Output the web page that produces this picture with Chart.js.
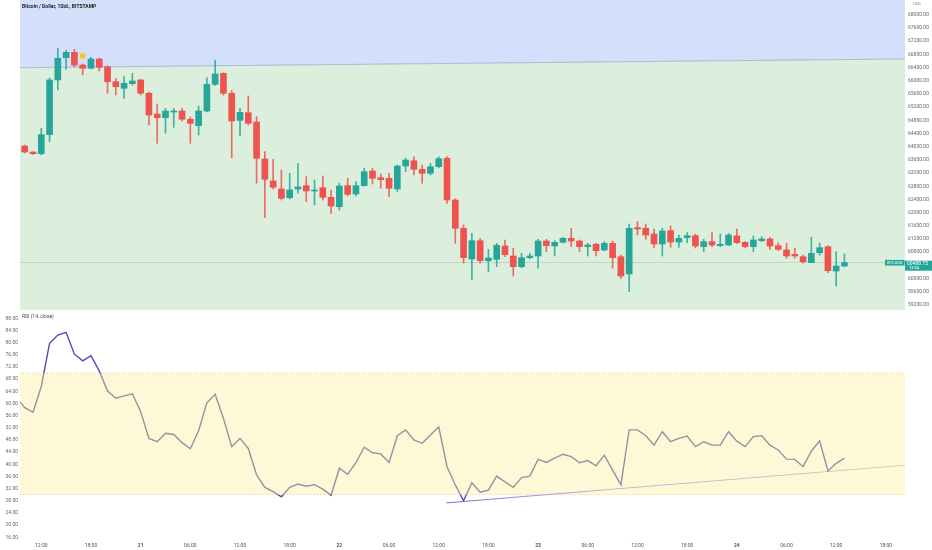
<!DOCTYPE html>
<html><head><meta charset="utf-8">
<script src="https://cdn.jsdelivr.net/npm/chart.js@4.4.1/dist/chart.umd.min.js"></script>
<style>
html,body{margin:0;padding:0;background:#fff;width:932px;height:550px;overflow:hidden;font-family:Roboto,"DejaVu Sans",sans-serif;}
#pc{position:absolute;left:0;top:0;}
#rc{position:absolute;left:0;top:311px;}
.t{position:absolute;font-size:5px;color:#333;white-space:nowrap;line-height:6px;}
</style></head><body>
<canvas id="pc" width="932" height="311"></canvas>
<canvas id="rc" width="932" height="239"></canvas>
<div class="t" style="left:22px;top:3px;font-weight:bold;color:#222;">Bitcoin / Dollar, 1Std., BITSTAMP</div>
<div class="t" style="left:22px;top:313px;color:#444;">RSI (14, close)</div>
<div class="t" style="left:913px;top:1px;color:#777;font-size:4px;">USD</div>
<script>
// ---- data (hourly candles, first one at index -1 = 20th 09:00) ----
const startIdx = -1;
const opens  = [64060,64020,63838,63787,64363,66021,66697,66860,66475,66375,66657,66424,65969,65769,65909,66021,65618,64990,64878,65050,65081,64830,64636,65081,65890,66224,65618,64799,65030,64748,63626,62959,62717,62453,62717,62817,62656,62756,62465,62181,62817,62565,62817,63262,63060,63041,62717,63414,63575,63314,63193,63393,63648,62383,61526,60595,61150,60544,60586,60990,60686,60362,60635,60686,61141,60990,61101,61223,61141,60970,61041,60867,61071,60665,60141,61546,61526,61353,61050,61454,61111,61243,61303,60970,61120,61000,61020,61293,61101,60970,61150,61202,60999,60868,60737,60665,60483,60787,60968,60232,60383];
const highs  = [64100,64050,63854,64557,66081,66982,66930,66951,66506,66709,66688,66445,66072,66121,66224,66040,65657,65293,65163,65163,65163,64900,65233,66090,66627,66242,65700,65163,65536,64908,63848,63617,63293,63193,63496,63090,62990,63111,62687,62890,63041,62939,63344,63344,63172,63193,63444,63648,63696,63444,63496,63696,63696,62420,61626,61374,61222,60889,61071,61171,60920,60767,60767,61192,61192,61150,61253,61526,61171,61071,61071,61120,61141,60716,61656,61726,61656,61505,61526,61595,61323,61393,61353,61192,61404,61353,61374,61505,61120,61293,61272,61253,61090,61071,60920,60716,61253,61071,61000,60817,60747];
const lows   = [63990,63808,63763,63748,64151,65718,66345,66424,66172,66354,66294,65618,65566,65466,65869,65566,64657,64102,64405,64587,64778,64102,64354,65050,65860,65566,63660,64323,64657,62890,61859,62717,62384,62414,62587,62332,62232,62384,61980,62080,62505,62505,62800,62869,62738,62484,62635,63241,63141,62890,63141,63360,62283,61071,60465,59959,60465,60210,60362,60665,60080,60330,60600,60314,60817,60686,61080,60970,60817,60686,60686,60840,60314,60010,59604,61323,61192,60929,60686,60950,60950,61090,60929,60817,60970,60970,61000,61060,60929,60817,61120,60889,60850,60616,60616,60465,60483,60716,60180,59777,60360];
const closes = [64020,63838,63787,64363,66021,66678,66860,66475,66375,66657,66406,65969,65818,65921,65991,65618,64960,64878,65081,65081,64830,64708,65081,65890,66203,65618,64780,65042,64708,63648,63011,62769,62435,62687,62778,62656,62687,62465,62202,62808,62556,62817,63241,63041,62999,62738,63414,63596,63314,63193,63393,63635,62383,61526,60635,61150,60544,60625,61010,60726,60362,60635,60686,61141,61000,61101,61223,61141,60970,61020,60847,61071,60635,60080,61526,61505,61323,61050,61444,61111,61223,61303,60990,61120,61020,61041,61323,61090,60970,61171,61202,60990,60889,60686,60686,60513,60768,60938,60241,60383,60488.75];
const rsi = [61.9,58.6,57.1,65.5,79.8,82.5,83.4,76.2,74.0,75.7,70.7,64.1,61.7,62.5,63.2,57.3,48.5,47.4,50.2,49.8,47.1,45.1,51.0,60.2,63.0,55.1,45.8,48.5,45.2,36.5,32.4,31.0,29.3,32.4,33.5,32.8,33.3,31.8,29.8,38.7,36.7,40.5,45.6,43.8,43.4,40.6,49.4,51.3,48.0,46.9,49.6,52.3,39.2,33.2,28.0,33.9,30.8,31.5,36.1,34.2,32.4,35.6,36.1,41.6,40.6,42.0,43.3,42.5,40.5,41.2,39.5,43.0,38.1,33.2,51.3,51.3,49.4,46.3,50.7,47.4,48.5,49.3,45.8,47.4,46.3,46.3,50.7,47.6,45.8,49.1,49.4,46.3,44.7,41.7,41.6,39.2,44.3,47.7,37.8,40.3,42.0];

// axes / annotations
const xRange = [-0.57, 106.31];
const priceRange = [59049, 68446];
const rsiRange = [15, 90];
const priceTicks = [59200,59600,60000,60400,60800,61200,61600,62000,62400,62800,63200,63600,64000,64400,64800,65200,65600,66000,66400,66800,67200,67600,68000];
const rsiTicks = [16,20,24,28,32,36,40,44,48,52,56,60,64,68,72,76,80,84,88];
const timeTickIdx = [2,8,14,20,26,32,38,44,50,56,62,68,74,80,86,92,98,104];
const timeTickLabels = ["12:00","18:00","21","06:00","12:00","18:00","22","06:00","12:00","18:00","23","06:00","12:00","18:00","24","06:00","12:00","18:00"];
const dayLabels = ["21","22","23","24"];
const zoneLine = [66393, 66657];          // boundary between blue and green zones (at xRange ends)
const rsiLevels = [70, 30];
const rsiTrendX = [50.9, 106.31];
const rsiTrendY = [27.3, 39.7];
const markerIdx = [7];
const markerPrice = [66748];
const symbolLabel = "BTCUSD";
const countdown = "13:04";

const GREEN = '#26a69a', RED = '#ef5350';
Chart.defaults.font.family = 'Roboto, "DejaVu Sans", sans-serif';
Chart.defaults.animation = false;

const idx = closes.map((_, i) => startIdx + i);
const up = closes.map((c, i) => c >= opens[i]);
const candleColors = up.map(u => u ? GREEN : RED);
const wickColors = up.map(u => u ? 'rgba(38,166,154,0.85)' : 'rgba(239,83,80,0.85)');
const lastClose = closes[closes.length - 1];

function noPad(s) { s.paddingTop = 0; s.paddingBottom = 0; s.paddingLeft = 0; s.paddingRight = 0; }

const priceLabelPlugin = {
  id: 'priceLabel',
  afterDraw(chart) {
    const { ctx, chartArea, scales } = chart;
    const y = scales.y.getPixelForValue(lastClose);
    ctx.save();
    ctx.fillStyle = GREEN;
    ctx.fillRect(chartArea.right - 20, y - 2.6, 19.5, 5.6);
    ctx.fillRect(chartArea.right, y - 1.8, 27, 10);
    ctx.fillStyle = '#fff';
    ctx.textBaseline = 'middle';
    ctx.textAlign = 'center';
    ctx.font = '4px Roboto, "DejaVu Sans", sans-serif';
    ctx.fillText(symbolLabel, chartArea.right - 10.2, y + 0.2);
    ctx.textAlign = 'left';
    ctx.font = '5px Roboto, "DejaVu Sans", sans-serif';
    ctx.fillText(lastClose.toFixed(2), chartArea.right + 2, y + 1);
    ctx.font = '4px Roboto, "DejaVu Sans", sans-serif';
    ctx.fillText(countdown, chartArea.right + 4, y + 5.6);
    ctx.restore();
  }
};

new Chart(document.getElementById('pc'), {
  type: 'bar',
  data: {
    datasets: [
      { type: 'line', data: xRange.map((x, i) => ({ x, y: zoneLine[i] })), fill: 'end',
        backgroundColor: '#d4e0fb', borderColor: '#a9b8cf', borderWidth: 0.8, pointRadius: 0, order: 10 },
      { type: 'line', data: xRange.map((x, i) => ({ x, y: zoneLine[i] })), fill: 'start',
        backgroundColor: '#dcefdc', borderColor: '#a9b8cf', borderWidth: 0.8, pointRadius: 0, order: 9 },
      { type: 'line', data: xRange.map(x => ({ x, y: lastClose })), borderColor: 'rgba(110,150,140,0.35)',
        borderWidth: 0.8, pointRadius: 0, fill: false, order: 5 },
      { type: 'bar', data: idx.map((x, i) => ({ x, y: [lows[i], highs[i]] })), backgroundColor: wickColors,
        barThickness: 1, grouped: false, order: 2 },
      { type: 'bar', data: idx.map((x, i) => ({ x, y: [opens[i], closes[i]] })), backgroundColor: candleColors,
        barThickness: 6, minBarLength: 1, grouped: false, order: 1 },
      { type: 'line', data: markerIdx.map((x, i) => ({ x, y: markerPrice[i] })), showLine: false,
        pointRadius: 3, pointBackgroundColor: '#f7c531', pointBorderWidth: 0, order: 0 }
    ]
  },
  options: {
    responsive: false,
    layout: { autoPadding: false, padding: { left: 20, top: 0, right: 0, bottom: 1 } },
    plugins: { legend: { display: false }, tooltip: { enabled: false } },
    scales: {
      x: { type: 'linear', min: xRange[0], max: xRange[1], offset: false, display: false },
      y: {
        position: 'right', min: priceRange[0], max: priceRange[1],
        grid: { display: false, drawTicks: false }, border: { display: false },
        afterBuildTicks: s => { s.ticks = priceTicks.map(v => ({ value: v })); },
        afterFit: s => { s.width = 27; noPad(s); },
        ticks: { padding: 3, color: '#666', font: { size: 5 }, callback: v => Number(v).toFixed(2) }
      }
    }
  },
  plugins: [priceLabelPlugin]
});

const PURPLE = '#5745b8', GREY = '#9b8ea3';
function rsiLineColor(c) {
  const chart = c.chart, area = chart.chartArea;
  if (!area) return GREY;
  const y = chart.scales.y;
  const f = v => Math.min(1, Math.max(0, (y.getPixelForValue(v) - area.top) / (area.bottom - area.top)));
  const g = chart.ctx.createLinearGradient(0, area.top, 0, area.bottom);
  g.addColorStop(0, PURPLE); g.addColorStop(f(rsiLevels[0]), PURPLE);
  g.addColorStop(f(rsiLevels[0]), GREY); g.addColorStop(f(rsiLevels[1]), GREY);
  g.addColorStop(f(rsiLevels[1]), PURPLE); g.addColorStop(1, PURPLE);
  return g;
}
function trendColor(c) {
  const chart = c.chart, area = chart.chartArea;
  if (!area) return '#a9a0c8';
  const x = chart.scales.x;
  const g = chart.ctx.createLinearGradient(x.getPixelForValue(rsiTrendX[0]), 0, x.getPixelForValue(rsiTrendX[1]), 0);
  g.addColorStop(0, '#6a5acd'); g.addColorStop(0.35, '#b9b0d6'); g.addColorStop(1, '#d2c8bd');
  return g;
}

new Chart(document.getElementById('rc'), {
  type: 'line',
  data: {
    datasets: [
      { data: xRange.map(x => ({ x, y: rsiLevels[0] })), fill: { value: rsiLevels[1] }, backgroundColor: '#fef8d6',
        borderColor: '#c9c4b4', borderWidth: 0.8, borderDash: [1, 2], pointRadius: 0, order: 10 },
      { data: xRange.map(x => ({ x, y: rsiLevels[1] })), fill: false,
        borderColor: '#c9c4b4', borderWidth: 0.8, borderDash: [1, 2], pointRadius: 0, order: 9 },
      { data: rsiTrendX.map((x, i) => ({ x, y: rsiTrendY[i] })), fill: false, borderColor: trendColor,
        borderWidth: 0.9, pointRadius: 0, order: 2 },
      { data: idx.map((x, i) => ({ x, y: rsi[i] })), fill: false, borderColor: rsiLineColor,
        borderWidth: 1.4, pointRadius: 0, tension: 0, order: 1 }
    ]
  },
  options: {
    responsive: false,
    layout: { autoPadding: false, padding: { left: 0, top: 1.2, right: 27, bottom: 0 } },
    plugins: { legend: { display: false }, tooltip: { enabled: false } },
    scales: {
      x: {
        type: 'linear', min: xRange[0], max: xRange[1], offset: false,
        grid: { display: false, drawTicks: false }, border: { display: false },
        afterBuildTicks: s => { s.ticks = timeTickIdx.map(v => ({ value: v })); },
        afterFit: s => { s.height = 9.7; noPad(s); },
        ticks: {
          autoSkip: false, maxRotation: 0, padding: 2, color: '#555',
          callback: (v, i) => timeTickLabels[i],
          font: c => ({ size: 5, weight: dayLabels.includes(timeTickLabels[c.index]) ? 'bold' : 'normal' })
        }
      },
      y: {
        position: 'left', min: rsiRange[0], max: rsiRange[1],
        grid: { display: false, drawTicks: false }, border: { display: false },
        afterBuildTicks: s => { s.ticks = rsiTicks.map(v => ({ value: v })); },
        afterFit: s => { s.width = 20; noPad(s); },
        ticks: { padding: 2, color: '#666', font: { size: 5 }, callback: v => Number(v).toFixed(2) }
      }
    }
  }
});
</script>
</body></html>
